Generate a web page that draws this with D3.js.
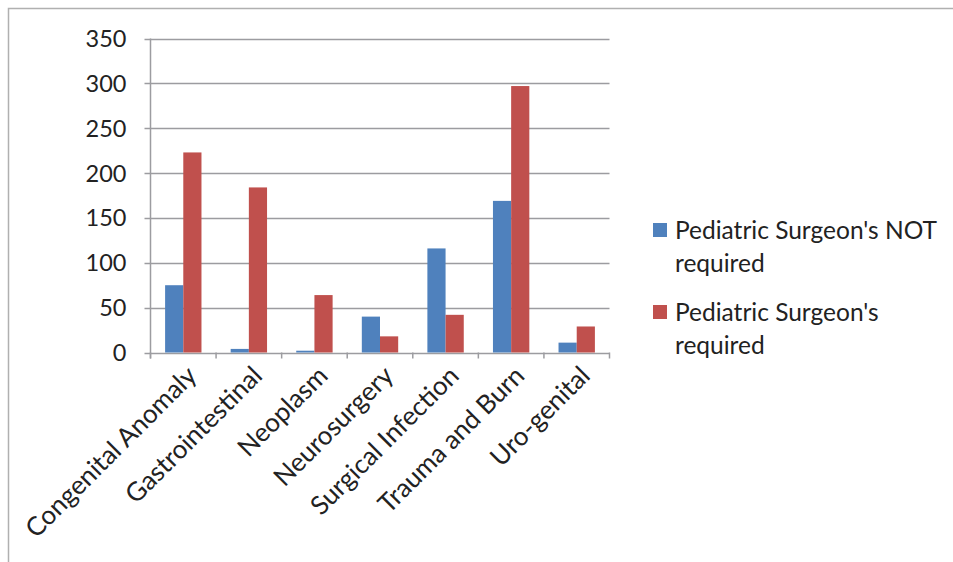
<!DOCTYPE html>
<html><head><meta charset="utf-8">
<script src="https://cdn.jsdelivr.net/npm/d3@7"></script>
<style>body{margin:0;background:#fff}svg{display:block}text{font-family:Lato,"Open Sans",sans-serif;fill:#222}</style>
</head><body><svg id="c" width="953" height="562"></svg>
<script>
const categories = ["Congenital Anomaly","Gastrointestinal","Neoplasm","Neurosurgery","Surgical Infection","Trauma and Burn","Uro-genital"];
const notRequired = [75,4,2,40,116,169,11];
const required = [223,184,64,18,42,297,29];
const seriesNames = ["Pediatric Surgeon's NOT required","Pediatric Surgeon's required"];
const seriesColors = ["#4F81BD","#C0504D"];
const yTicks = [0,50,100,150,200,250,300,350];

const svg = d3.select("#c");
svg.append("path").attr("d","M8.5,562 V8.5 H953").attr("fill","none").attr("stroke","#b0b0b0").attr("stroke-width",1.5);

const L=150.5, R=609.5, T=38.5, B=352.5;
const x = d3.scaleBand().domain(categories).range([L,R]).paddingInner(0).paddingOuter(0);
const x1 = d3.scaleBand().domain([0,1]).range([14.6, x.bandwidth()-14.6]);
const y = d3.scaleLinear().domain([0,350]).range([B,T]);

const g = svg.append("g");
g.selectAll("line.grid").data(yTicks).join("line")
  .attr("x1",L-6).attr("x2",R).attr("y1",d=>Math.round(y(d))+0.5).attr("y2",d=>Math.round(y(d))+0.5)
  .attr("stroke","#9c9ca0").attr("stroke-width",1.5);
g.append("line").attr("x1",L).attr("x2",L).attr("y1",T).attr("y2",B+6).attr("stroke","#9c9ca0").attr("stroke-width",1.5);
g.selectAll("line.xt").data(d3.range(categories.length+1)).join("line")
  .attr("x1",i=>L+i*x.bandwidth()).attr("x2",i=>L+i*x.bandwidth()).attr("y1",B).attr("y2",B+6)
  .attr("stroke","#9c9ca0").attr("stroke-width",1.5);

g.selectAll("text.yl").data(yTicks).join("text")
  .attr("x",L-24).attr("y",d=>y(d)).attr("dy","0.36em").attr("text-anchor","end")
  .style("font-size","23.5px").text(d=>d);

const series=[notRequired,required];
series.forEach((vals,si)=>{
  g.selectAll("rect.s"+si).data(vals).join("rect")
   .attr("x",(d,i)=>x(categories[i])+x1(si)).attr("width",x1.bandwidth())
   .attr("y",d=>y(d)).attr("height",d=>B-y(d)).attr("fill",seriesColors[si]);
});

g.selectAll("text.xl").data(categories).join("text")
  .attr("transform",d=>`translate(${x(d)+x.bandwidth()/2+2},${B+12}) rotate(-45)`)
  .attr("text-anchor","end").attr("dy","0.7em").style("font-size","26px").text(d=>d);

const leg = svg.append("g");
const legLines=[["Pediatric Surgeon's NOT","required"],["Pediatric Surgeon's","required"]];
legLines.forEach((ls,i)=>{
  const y0 = 230 + i*82;
  leg.append("rect").attr("x",653).attr("y",y0-7).attr("width",14).attr("height",14).attr("fill",seriesColors[i]);
  ls.forEach((t,j)=>leg.append("text").attr("x",675).attr("y",y0+j*33).attr("dy","0.36em").style("font-size","24.5px").text(t));
});
</script></body></html>
